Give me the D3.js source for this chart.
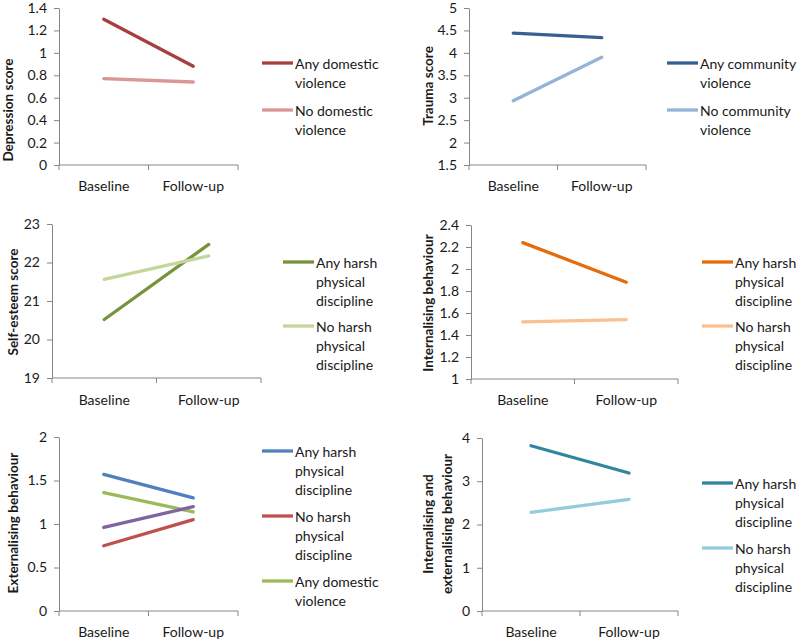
<!DOCTYPE html>
<html>
<head>
<meta charset="utf-8">
<script src="https://cdn.jsdelivr.net/npm/d3@7"></script>
<style>
  html, body { margin: 0; padding: 0; background: #fff; }
  svg text { font-family: Lato, "Open Sans", sans-serif; fill: #1a1a1a; }
</style>
</head>
<body>
<svg id="chart" width="800" height="639"></svg>
<script>
// ---------- DATA ----------
const timepoints = ["Baseline", "Follow-up"];

const depressionLabels = ["Any domestic\nviolence", "No domestic\nviolence"];
const depressionValues = [[1.30, 0.88], [0.77, 0.74]];
const depressionTicks = [0, 0.2, 0.4, 0.6, 0.8, 1, 1.2, 1.4];

const traumaLabels = ["Any community\nviolence", "No community\nviolence"];
const traumaValues = [[4.44, 4.34], [2.93, 3.90]];
const traumaTicks = [1.5, 2, 2.5, 3, 3.5, 4, 4.5, 5];

const selfEsteemLabels = ["Any harsh\nphysical\ndiscipline", "No harsh\nphysical\ndiscipline"];
const selfEsteemValues = [[20.52, 22.47], [21.56, 22.17]];
const selfEsteemTicks = [19, 20, 21, 22, 23];

const internalisingLabels = ["Any harsh\nphysical\ndiscipline", "No harsh\nphysical\ndiscipline"];
const internalisingValues = [[2.24, 1.88], [1.52, 1.54]];
const internalisingTicks = [1, 1.2, 1.4, 1.6, 1.8, 2, 2.2, 2.4];

const externalisingLabels = ["Any harsh\nphysical\ndiscipline", "No harsh\nphysical\ndiscipline", "Any domestic\nviolence", null];
const externalisingValues = [[1.57, 1.30], [0.75, 1.05], [1.36, 1.14], [0.96, 1.20]];
const externalisingTicks = [0, 0.5, 1, 1.5, 2];

const totalLabels = ["Any harsh\nphysical\ndiscipline", "No harsh\nphysical\ndiscipline"];
const totalValues = [[3.82, 3.19], [2.28, 2.58]];
const totalTicks = [0, 1, 2, 3, 4];

// ---------- LAYOUT / STYLE ----------
const panels = [
  { title: ["Depression score"], labels: depressionLabels, values: depressionValues, ticks: depressionTicks,
    colors: ["#A5403E", "#D99694"],
    x0: 59, x1: 238, yTop: 8, yBot: 165, titleX: 8, titleY: 110, catY: 185,
    legX: 262, legY: [63, 110] },
  { title: ["Trauma score"], labels: traumaLabels, values: traumaValues, ticks: traumaTicks,
    colors: ["#376092", "#95B3D7"],
    x0: 469, x1: 646, yTop: 8, yBot: 165, titleX: 428, titleY: 86, catY: 185,
    legX: 667, legY: [63, 110] },
  { title: ["Self-esteem score"], labels: selfEsteemLabels, values: selfEsteemValues, ticks: selfEsteemTicks,
    colors: ["#77933C", "#C3D69B"],
    x0: 52, x1: 261, yTop: 224, yBot: 378, titleX: 13, titleY: 302, catY: 399,
    legX: 283, legY: [262, 326] },
  { title: ["Internalising behaviour"], labels: internalisingLabels, values: internalisingValues, ticks: internalisingTicks,
    colors: ["#E46C0A", "#FAC090"],
    x0: 471, x1: 678, yTop: 225, yBot: 379, titleX: 428, titleY: 303, catY: 399,
    legX: 702, legY: [262, 326] },
  { title: ["Externalising behaviour"], labels: externalisingLabels, values: externalisingValues, ticks: externalisingTicks,
    colors: ["#4F81BD", "#C0504D", "#9BBB59", "#8064A2"],
    x0: 59, x1: 238, yTop: 437, yBot: 611, titleX: 13, titleY: 523, catY: 631,
    legX: 262, legY: [451, 516, 581] },
  { title: ["Internalising and", "externalising behaviour"], labels: totalLabels, values: totalValues, ticks: totalTicks,
    colors: ["#31859C", "#93CDDD"],
    x0: 482, x1: 678, yTop: 438, yBot: 611, titleX: 428, titleY: 524, catY: 631,
    legX: 702, legY: [483, 548] }
];

const axisColor = "#868686";
const svg = d3.select("#chart");

panels.forEach(p => {
  const g = svg.append("g");
  const x = d3.scaleBand().domain(timepoints).range([p.x0, p.x1]);
  const y = d3.scaleLinear().domain(d3.extent(p.ticks)).range([p.yBot, p.yTop]);

  // y axis
  const yAxis = g.append("g").attr("transform", `translate(${p.x0},0)`)
    .call(d3.axisLeft(y).tickValues(p.ticks).tickSize(5).tickSizeOuter(0).tickPadding(7)
      .tickFormat(d => d3.format("~g")(d)));
  yAxis.select(".domain").attr("stroke", axisColor);
  yAxis.selectAll(".tick line").attr("stroke", axisColor);
  yAxis.selectAll(".tick text").attr("font-size", 14).attr("font-family", "Lato").attr("fill", "#1a1a1a");

  // x axis line
  g.append("line").attr("x1", p.x0).attr("x2", p.x1).attr("y1", p.yBot).attr("y2", p.yBot)
    .attr("stroke", axisColor);
  // boundary ticks
  const bounds = timepoints.map(t => x(t)).concat([x(timepoints[timepoints.length - 1]) + x.bandwidth()]);
  g.selectAll("line.xt").data(bounds).enter().append("line").attr("class", "xt")
    .attr("x1", d => d).attr("x2", d => d).attr("y1", p.yBot).attr("y2", p.yBot + 5)
    .attr("stroke", axisColor);
  // category labels
  g.selectAll("text.cat").data(timepoints).enter().append("text").attr("class", "cat")
    .attr("x", d => x(d) + x.bandwidth() / 2).attr("y", p.catY)
    .attr("text-anchor", "middle").attr("dominant-baseline", "central")
    .attr("font-size", 14).text(d => d);

  // axis title
  const t = g.append("text")
    .attr("transform", `translate(${p.titleX},${p.titleY}) rotate(-90)`)
    .attr("text-anchor", "middle").attr("font-size", 13.5).attr("font-weight", "bold");
  p.title.forEach((line, i) => {
    t.append("tspan").attr("x", 0).attr("y", i * 19).attr("dominant-baseline", "central").text(line);
  });

  // series lines
  const line = d3.line().x((d, i) => x(timepoints[i]) + x.bandwidth() / 2).y(d => y(d));
  p.values.forEach((vals, i) => {
    g.append("path").datum(vals).attr("d", line)
      .attr("fill", "none").attr("stroke", p.colors[i]).attr("stroke-width", 3.3)
      .attr("stroke-linecap", "round");
  });

  // legend
  p.labels.forEach((lab, i) => {
    if (lab === null) return;
    const ly = p.legY[i];
    g.append("line").attr("x1", p.legX).attr("x2", p.legX + 31).attr("y1", ly).attr("y2", ly)
      .attr("stroke", p.colors[i]).attr("stroke-width", 3.3);
    const tx = g.append("text").attr("font-size", 14);
    lab.split("\n").forEach((ln, j) => {
      tx.append("tspan").attr("x", p.legX + 33).attr("y", ly + j * 19.3)
        .attr("dominant-baseline", "central").text(ln);
    });
  });
});
</script>
</body>
</html>
